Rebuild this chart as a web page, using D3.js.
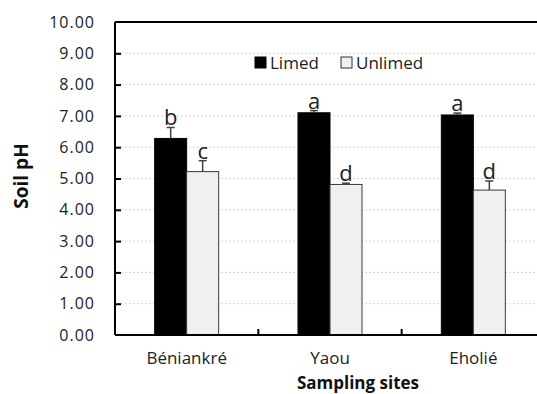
<!DOCTYPE html>
<html>
<head>
<meta charset="utf-8">
<script src="https://cdn.jsdelivr.net/npm/d3@7"></script>
<style>
  body { margin: 0; background: #fff; }
  text { font-family: "Open Sans", sans-serif; }
</style>
</head>
<body>
<script>
  const sites = ["Béniankré", "Yaou", "Eholié"]
  const treatments = ["Limed", "Unlimed"]
  const limed = [6.28, 7.10, 7.03]
  const limedErr = [0.35, 0.07, 0.06]
  const unlimed = [5.22, 4.81, 4.63]
  const unlimedErr = [0.35, 0.04, 0.29]
  const limedLetters = ["b", "a", "a"]
  const unlimedLetters = ["c", "d", "d"]
  const yTicks = [0, 1, 2, 3, 4, 5, 6, 7, 8, 9, 10]

  const width = 537, height = 394
  const plotLeft = 115, plotTop = 22, plotBottom = 335, plotRight = 545

  const svg = d3.select("body").append("svg")
    .attr("width", width)
    .attr("height", height)

  const y = d3.scaleLinear().domain([0, 10]).range([plotBottom, plotTop])
  const x0 = d3.scaleBand().domain(sites).range([plotLeft, plotRight])
  const x1 = d3.scaleBand().domain(treatments).range([-32, 32])
  const colors = {Limed: "#000000", Unlimed: "#f0f0f0"}

  const rows = []
  sites.forEach(function(s, i) {
    rows.push({site: s, key: "Limed", v: limed[i], e: limedErr[i], letter: limedLetters[i]})
    rows.push({site: s, key: "Unlimed", v: unlimed[i], e: unlimedErr[i], letter: unlimedLetters[i]})
  })

  // grid
  svg.append("g").selectAll("line")
    .data(yTicks.filter(d => d > 0 && d < 10))
    .enter().append("line")
      .attr("x1", plotLeft + 6).attr("x2", width)
      .attr("y1", d => y(d)).attr("y2", d => y(d))
      .attr("stroke", "#d4d4d4")
      .attr("stroke-dasharray", "2,2")
      .attr("stroke-width", 1)

  // top frame
  svg.append("line")
    .attr("x1", plotLeft).attr("x2", width)
    .attr("y1", y(10)).attr("y2", y(10))
    .attr("stroke", "#000").attr("stroke-width", 2)

  // bars
  svg.append("g").selectAll("rect")
    .data(rows)
    .enter().append("rect")
      .attr("x", d => x0(d.site) + x0.bandwidth() / 2 + x1(d.key))
      .attr("width", x1.bandwidth())
      .attr("y", d => y(d.v))
      .attr("height", d => y(0) - y(d.v))
      .attr("fill", d => colors[d.key])
      .attr("stroke", d => d.key === "Unlimed" ? "#3a3a3a" : "#000")
      .attr("stroke-width", 1)

  // error bars
  const err = svg.append("g").attr("stroke", "#404040").attr("stroke-width", 1.5)
  rows.forEach(function(d) {
    const cx = x0(d.site) + x0.bandwidth() / 2 + x1(d.key) + x1.bandwidth() / 2
    err.append("line").attr("x1", cx).attr("x2", cx).attr("y1", y(d.v)).attr("y2", y(d.v + d.e))
    err.append("line").attr("x1", cx - 4).attr("x2", cx + 4).attr("y1", y(d.v + d.e)).attr("y2", y(d.v + d.e))
  })

  // letters
  svg.append("g").selectAll("text")
    .data(rows)
    .enter().append("text")
      .attr("x", d => x0(d.site) + x0.bandwidth() / 2 + x1(d.key) + x1.bandwidth() / 2)
      .attr("y", d => y(d.v + d.e) - 2)
      .attr("text-anchor", "middle")
      .attr("font-size", 22)
      .attr("fill", "#222")
      .text(d => d.letter)

  // y axis
  const yAxis = svg.append("g")
    .attr("transform", "translate(" + plotLeft + ",0)")
    .call(d3.axisLeft(y).tickValues(yTicks).tickSize(-6).tickPadding(20).tickFormat(d3.format(".2f")))
  yAxis.select(".domain").attr("stroke-width", 2).attr("d", "M0," + plotTop + "V" + plotBottom)
  yAxis.selectAll(".tick line").attr("stroke-width", 2)
  yAxis.selectAll(".tick").filter(d => d === 0 || d === 10).select("line").remove()
  yAxis.selectAll("text").attr("font-size", 16).attr("letter-spacing", "1px").attr("fill", "#222")

  // x axis
  const xAxis = svg.append("g")
    .attr("transform", "translate(0," + plotBottom + ")")
    .call(d3.axisBottom(x0).tickSize(0).tickPadding(17))
  xAxis.select(".domain").attr("stroke-width", 2).attr("d", "M" + plotLeft + ",0H" + width)
  xAxis.selectAll("text").attr("font-size", 17).attr("fill", "#222")
  xAxis.selectAll(".sep")
    .data(sites.slice(1))
    .enter().append("line")
      .attr("x1", d => x0(d)).attr("x2", d => x0(d))
      .attr("y1", 0).attr("y2", -6)
      .attr("stroke", "#000").attr("stroke-width", 2)

  // axis titles
  svg.append("text")
    .attr("transform", "translate(28,176)rotate(-90)")
    .attr("text-anchor", "middle")
    .attr("font-size", 19)
    .attr("font-weight", "bold")
    .attr("fill", "#111")
    .text("Soil pH")
  svg.append("text")
    .attr("x", 358).attr("y", 389)
    .attr("text-anchor", "middle")
    .attr("font-size", 17)
    .attr("font-weight", "bold")
    .attr("fill", "#111")
    .text("Sampling sites")

  // legend
  const legendX = [255, 341]
  const legend = svg.append("g").selectAll("g")
    .data(treatments)
    .enter().append("g")
      .attr("transform", (d, i) => "translate(" + legendX[i] + ",57)")
  legend.append("rect")
    .attr("width", 11).attr("height", 11)
    .attr("fill", d => colors[d])
    .attr("stroke", d => d === "Unlimed" ? "#333" : "#000")
  legend.append("text")
    .attr("x", 15).attr("y", 11.5)
    .attr("font-size", 17)
    .attr("fill", "#222")
    .text(d => d)
</script>
</body>
</html>
